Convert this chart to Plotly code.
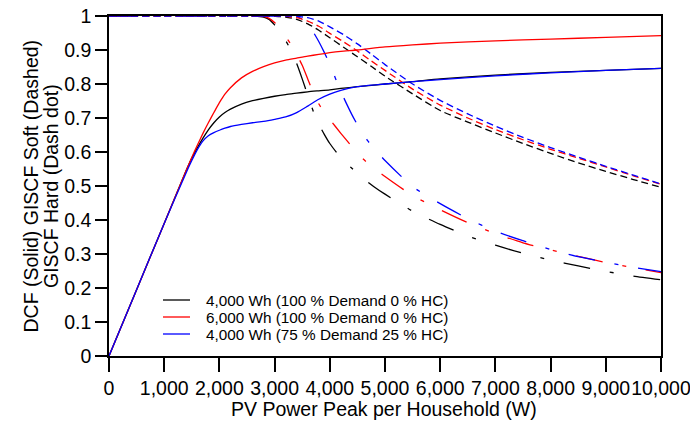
import plotly.graph_objects as go

# ---------------- data ----------------
series_names = [
    "4,000 Wh (100 % Demand 0 % HC)",
    "6,000 Wh (100 % Demand 0 % HC)",
    "4,000 Wh (75 % Demand 25 % HC)",
]

# DCF (solid)
x_dcf = [0, 500, 1000, 1400, 1500, 1600, 1700, 1800, 1900, 2000, 2100, 2200, 2400, 2600, 2800, 3000,
         3200, 3400, 3600, 3800, 4000, 4200, 4500, 5000, 5500, 6000, 7000, 8000, 9000, 10000]
dcf_black = [0, 0.195, 0.39, 0.546, 0.582, 0.612, 0.640, 0.665, 0.686, 0.703, 0.716, 0.726, 0.741, 0.751, 0.758, 0.764,
             0.769, 0.773, 0.777, 0.780, 0.783, 0.787, 0.792, 0.800, 0.807, 0.815, 0.826, 0.834, 0.840, 0.846]
dcf_red = [0, 0.195, 0.39, 0.546, 0.584, 0.620, 0.654, 0.686, 0.716, 0.745, 0.770, 0.789, 0.818, 0.837, 0.851, 0.862,
           0.870, 0.876, 0.882, 0.887, 0.892, 0.896, 0.900, 0.909, 0.915, 0.920, 0.927, 0.932, 0.937, 0.942]
dcf_blue = [0, 0.195, 0.39, 0.540, 0.575, 0.607, 0.632, 0.648, 0.657, 0.664, 0.670, 0.675, 0.681, 0.686, 0.690, 0.696,
            0.703, 0.716, 0.735, 0.755, 0.770, 0.781, 0.792, 0.800, 0.807, 0.813, 0.824, 0.833, 0.840, 0.846]

# GISCF Soft (dashed)
x_soft = [0, 2600, 2800, 3000, 3200, 3400, 3600, 3800, 4000, 4250, 4500, 4750, 5000,
          5500, 6000, 6500, 7000, 7500, 8000, 8500, 9000, 9500, 10000]
soft_black = [1, 1, 1, 0.999, 0.997, 0.99, 0.977, 0.958, 0.936, 0.908, 0.88, 0.852, 0.823,
              0.771, 0.722, 0.688, 0.656, 0.625, 0.596, 0.568, 0.543, 0.519, 0.496]
soft_red = [1, 1, 1, 1, 0.999, 0.995, 0.985, 0.97, 0.949, 0.924, 0.897, 0.868, 0.84,
            0.785, 0.738, 0.70, 0.666, 0.636, 0.608, 0.582, 0.556, 0.53, 0.505]
soft_blue = [1, 1, 1, 1, 1, 0.999, 0.995, 0.985, 0.968, 0.945, 0.918, 0.888, 0.857,
             0.80, 0.752, 0.712, 0.676, 0.643, 0.613, 0.585, 0.558, 0.532, 0.506]

# GISCF Hard (dash dot)
x_hard = [0, 2600, 2800, 2900, 3000, 3100, 3200, 3300, 3400, 3500, 3600, 3700, 3800, 3900, 4000,
          4200, 4400, 4600, 4800, 5000, 5500, 6000, 6500, 7000, 7500, 8000, 8500, 9000, 9500, 10000]
hard_black = [1, 1, 0.997, 0.99, 0.974, 0.953, 0.928, 0.898, 0.86, 0.815, 0.767, 0.72, 0.682, 0.652, 0.625,
              0.583, 0.552, 0.523, 0.498, 0.476, 0.426, 0.387, 0.353, 0.326, 0.302, 0.282, 0.265, 0.249, 0.235, 0.224]
hard_red = [1, 1, 0.999, 0.993, 0.981, 0.963, 0.94, 0.915, 0.887, 0.855, 0.815, 0.775, 0.742, 0.717, 0.696,
            0.655, 0.616, 0.58, 0.553, 0.528, 0.472, 0.43, 0.392, 0.36, 0.333, 0.312, 0.293, 0.275, 0.26, 0.245]
hard_blue = [1, 1, 1, 1, 1, 1, 1, 1, 0.998, 0.991, 0.977, 0.953, 0.925, 0.893, 0.858,
             0.778, 0.71, 0.652, 0.61, 0.575, 0.498, 0.448, 0.404, 0.367, 0.339, 0.313, 0.292, 0.276, 0.261, 0.248]

colors = ["#000000", "#ff0000", "#0000ff"]
x_ticks = [0, 1000, 2000, 3000, 4000, 5000, 6000, 7000, 8000, 9000, 10000]
y_ticks = [0, 0.1, 0.2, 0.3, 0.4, 0.5, 0.6, 0.7, 0.8, 0.9, 1]

y_title_lines = ["DCF (Solid) GISCF Soft (Dashed)", "GISCF Hard (Dash dot)"]
x_title = "PV Power Peak per Household (W)"

FONT = "Arial, 'Liberation Sans', sans-serif"
AXFONT = 19.5

# plot-area geometry (pixels)
L, R, T, B = 109, 661, 16, 356
W, H = R - L, B - T


def px_x(p):
    return (p - L) / W


def px_y(p):
    return (B - p) / H


fig = go.Figure()

dcf = [dcf_black, dcf_red, dcf_blue]
soft = [soft_black, soft_red, soft_blue]
hard = [hard_black, hard_red, hard_blue]

for i in range(3):
    fig.add_trace(go.Scatter(x=x_hard, y=hard[i], mode="lines", showlegend=False,
                             line=dict(color=colors[i], width=1.3, dash="27px,20px,4px,20px",
                                       shape="spline", smoothing=0.6)))
for i in range(3):
    fig.add_trace(go.Scatter(x=x_soft, y=soft[i], mode="lines", showlegend=False,
                             line=dict(color=colors[i], width=1.3, dash="7px,4px",
                                       shape="spline", smoothing=0.6)))
for i in range(3):
    fig.add_trace(go.Scatter(x=x_dcf, y=dcf[i], mode="lines", name=series_names[i], showlegend=False,
                             line=dict(color=colors[i], width=1.3, shape="spline", smoothing=0.6)))

# manual legend (line samples + text)
shapes = []
annotations = []
legend_rows = [300, 317, 334]
for i in range(3):
    yy = px_y(legend_rows[i])
    shapes.append(dict(type="line", xref="paper", yref="paper",
                       x0=px_x(163), x1=px_x(190), y0=yy, y1=yy,
                       line=dict(color=colors[i], width=1.3)))
    annotations.append(dict(text=series_names[i], xref="paper", yref="paper",
                            x=px_x(204), y=yy, xanchor="left", yanchor="middle",
                            showarrow=False, font=dict(size=15.3, family=FONT, color="black")))

# axis titles
annotations.append(dict(text=x_title, xref="paper", yref="paper",
                        x=px_x(384), y=px_y(409), xanchor="center", yanchor="middle",
                        showarrow=False, font=dict(size=AXFONT, family=FONT, color="black")))
for xp, txt in zip([30.5, 51], y_title_lines):
    annotations.append(dict(text=txt, xref="paper", yref="paper", textangle=-90,
                            x=px_x(xp), y=px_y(186), xanchor="center", yanchor="middle",
                            showarrow=False, font=dict(size=AXFONT, family=FONT, color="black")))

fig.update_layout(
    width=690, height=423,
    margin=dict(l=L, r=690 - R, t=T, b=423 - B, autoexpand=False),
    paper_bgcolor="white", plot_bgcolor="white",
    font=dict(family=FONT, size=AXFONT, color="black"),
    showlegend=False,
    xaxis=dict(range=[0, 10000], tickvals=x_ticks, tickformat=",d", automargin=False,
               ticklabeloverflow="allow", tickangle=0,
               showline=True, linecolor="black", linewidth=1.6, mirror=True,
               ticks="outside", ticklen=14, tickwidth=1.6, tickcolor="black",
               tickfont=dict(size=AXFONT),
               showgrid=False, zeroline=False),
    yaxis=dict(range=[0, 1], tickvals=y_ticks, automargin=False,
               ticklabeloverflow="allow",
               showline=True, linecolor="black", linewidth=1.6, mirror=True,
               ticks="outside", ticklen=12, tickwidth=1.6, tickcolor="black",
               tickfont=dict(size=AXFONT),
               showgrid=False, zeroline=False),
    shapes=shapes,
    annotations=annotations,
)

fig.write_html("out.html", config={"displayModeBar": False},
               post_script="document.body.style.margin='0';document.body.style.overflow='hidden';")
